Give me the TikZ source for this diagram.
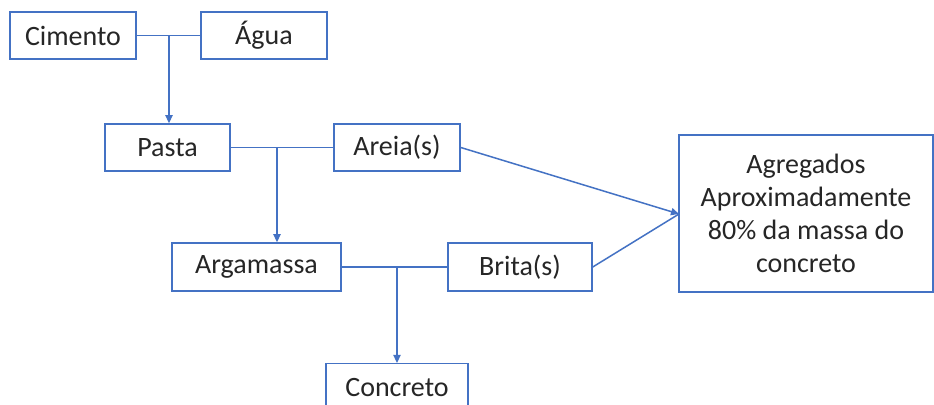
\documentclass[tikz,border=0pt]{standalone}
\usepackage{fontspec}
\setmainfont{Carlito}
\usetikzlibrary{arrows.meta}

\definecolor{linha}{RGB}{68,114,196}

\tikzset{
  caixa/.style={draw=linha, line width=0.75pt, minimum height=23.5pt, inner sep=0pt,
    font=\fontsize{14}{16.5}\selectfont, text=black!85},
  seta/.style={draw=linha, line width=0.75pt, -{Triangle[length=4pt,width=3.6pt]}},
  liga/.style={draw=linha, line width=0.75pt}
}

\begin{document}
\begin{tikzpicture}[x=0.5pt, y=-0.5pt]
\clip (0,0) rectangle (934,405);
\fill[white] (0,0) rectangle (934,405);

\node[caixa, minimum width=63pt] (cimento) at (73,35.5) {Cimento};
\node[caixa, minimum width=63pt] (agua) at (264,35.5) {Água};
\node[caixa, minimum width=62.5pt] (pasta) at (167.5,147.5) {Pasta};
\node[caixa, minimum width=63pt] (areia) at (397,147.5) {Areia(s)};
\node[caixa, minimum width=84.5pt, minimum height=24pt] (argamassa) at (256.5,267) {Argamassa};
\node[caixa, minimum width=72pt, minimum height=24pt] (brita) at (520,267) {Brita(s)};
\node[caixa, minimum width=71pt, minimum height=24pt, anchor=north] (concreto) at (397,363) {Concreto};
\node[caixa, minimum width=127pt, minimum height=78.5pt, align=center] (agregados) at (806,213.5)
  {Agregados\\Aproximadamente\\80\% da massa do\\concreto};

% cimento + agua -> pasta
\coordinate (j1) at (169,35.5);
\draw[liga] (cimento) -- (agua);
\draw[seta] (j1) -- (j1 |- pasta.north);

% pasta + areia -> argamassa
\coordinate (j2) at (277,147.5);
\draw[liga] (pasta) -- (areia);
\draw[seta] (j2) -- (j2 |- argamassa.north);

% argamassa + brita -> concreto
\coordinate (j3) at (397,267);
\draw[liga] (argamassa) -- (brita);
\draw[seta] (j3) -- (concreto.north);

% agregados
\coordinate (ag) at (679,214);
\draw[seta] (areia.east) -- (ag);
\draw[liga] (brita.east) -- (ag);
\end{tikzpicture}
\end{document}
